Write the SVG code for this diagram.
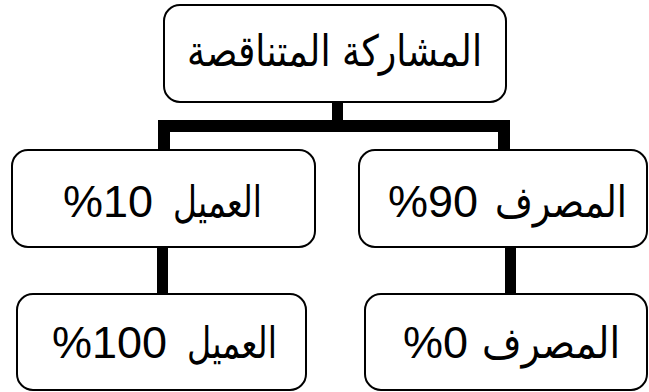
<svg xmlns="http://www.w3.org/2000/svg" width="649" height="392" viewBox="0 0 649 392">
<style>
.box{fill:#fff;stroke:#000;stroke-width:2}
.lbl{font-family:"Liberation Sans","DejaVu Sans",sans-serif;font-size:45px;fill:#000;text-anchor:start}
.ar{font-family:"DejaVu Sans","Liberation Sans",sans-serif;font-size:43px}
.con{fill:#000;stroke:none}
</style>
<rect width="649" height="392" fill="#fff"/>
<g id="connectors">
<rect class="con" x="332" y="101" width="11" height="20"/>
<rect class="con" x="158" y="120" width="352" height="12"/>
<rect class="con" x="158" y="120" width="12" height="31"/>
<rect class="con" x="498" y="120" width="12" height="31"/>
<rect class="con" x="157" y="246" width="11" height="49"/>
<rect class="con" x="505" y="246" width="11" height="49"/>
</g>
<g id="root">
<rect class="box" x="164" y="5" width="342" height="97" rx="16"/>
<text class="lbl" y="66"><tspan class="ar" x="187" textLength="295" lengthAdjust="spacingAndGlyphs">المشاركة المتناقصة</tspan></text>
</g>
<g id="client10">
<rect class="box" x="12" y="150" width="303" height="97" rx="16"/>
<text class="lbl" y="217"><tspan x="63">%10</tspan><tspan class="ar" x="173" textLength="89" lengthAdjust="spacingAndGlyphs">العميل</tspan></text>
</g>
<g id="bank90">
<rect class="box" x="359" y="150" width="288" height="97" rx="16"/>
<text class="lbl" y="217"><tspan x="388">%90</tspan><tspan class="ar" x="495" textLength="132" lengthAdjust="spacingAndGlyphs">المصرف</tspan></text>
</g>
<g id="client100">
<rect class="box" x="17" y="294" width="289" height="96" rx="16"/>
<text class="lbl" y="358"><tspan x="52">%100</tspan><tspan class="ar" x="187" textLength="90" lengthAdjust="spacingAndGlyphs">العميل</tspan></text>
</g>
<g id="bank0">
<rect class="box" x="365" y="294" width="282" height="96" rx="16"/>
<text class="lbl" y="358"><tspan x="403">%0</tspan><tspan class="ar" x="482" textLength="138" lengthAdjust="spacingAndGlyphs">المصرف</tspan></text>
</g>
</svg>
